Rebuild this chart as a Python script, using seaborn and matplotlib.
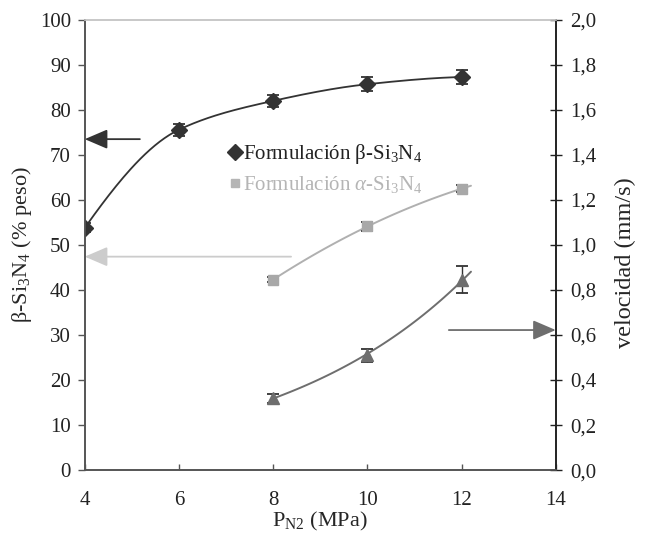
import matplotlib
matplotlib.use("Agg")
import matplotlib.pyplot as plt
import numpy as np
import seaborn as sns
from matplotlib.lines import Line2D

sns.set_theme(style="white")
plt.rcParams.update({
    "font.family": ["Liberation Serif", "DejaVu Serif"],
    "mathtext.fontset": "custom",
    "mathtext.rm": "Liberation Serif",
    "mathtext.it": "Liberation Serif:italic",
    "font.size": 15,
})

# ---------------------------------------------------------------- data
p_beta = [4, 6, 8, 10, 12]
beta = [53.8, 75.6, 82.0, 85.7, 87.3]
beta_err = [1.0, 1.3, 1.3, 1.5, 1.6]

p_alpha = [8, 10, 12]
alpha = [42.3, 54.1, 62.5]
alpha_err = [0.5, 1.0, 0.8]

p_vel = [8, 10, 12]
vel = [0.32, 0.51, 0.845]
vel_err = [0.02, 0.03, 0.06]

DARK, LIGHT, MID = "#333333", "#b0b0b0", "#6e6e6e"
FS = 15


def pchip_line(x, y, n=40):
    # monotone cubic smoothing of the connecting line (no overshoot)
    x = np.asarray(x, float); y = np.asarray(y, float)
    h = np.diff(x); d = np.diff(y) / h
    m = np.zeros_like(y)
    for k in range(1, len(x) - 1):
        if d[k - 1] * d[k] > 0:
            w1, w2 = 2 * h[k] + h[k - 1], h[k] + 2 * h[k - 1]
            m[k] = (w1 + w2) / (w1 / d[k - 1] + w2 / d[k])
    m[0] = ((2 * h[0] + h[1]) * d[0] - h[0] * d[1]) / (h[0] + h[1])
    m[-1] = ((2 * h[-1] + h[-2]) * d[-1] - h[-1] * d[-2]) / (h[-1] + h[-2])
    xs, ys = [], []
    for k in range(len(h)):
        t = np.linspace(0, 1, n)
        h00 = 2 * t**3 - 3 * t**2 + 1; h10 = t**3 - 2 * t**2 + t
        h01 = -2 * t**3 + 3 * t**2; h11 = t**3 - t**2
        xs.append(x[k] + t * h[k])
        ys.append(h00 * y[k] + h10 * h[k] * m[k] + h01 * y[k + 1] + h11 * h[k] * m[k + 1])
    return np.concatenate(xs), np.concatenate(ys)


def trend(x, y, x_end):
    c = np.polyfit(x, y, 2)
    xs = np.linspace(x[0], x_end, 60)
    return xs, np.polyval(c, xs)


def exp_trend(x, y, x_end):
    b, a = np.polyfit(x, np.log(y), 1)
    xs = np.linspace(x[0], x_end, 60)
    return xs, np.exp(a + b * xs)


fig = plt.figure(figsize=(6.47, 5.36), dpi=100)
ax = fig.add_axes([0.131, 0.123, 0.728, 0.840])
ax2 = ax.twinx()

# beta formulation
bx, by = pchip_line(p_beta, beta)
sns.lineplot(x=bx, y=by, ax=ax, color=DARK, lw=1.3, sort=False)
ax.errorbar(p_beta, beta, yerr=beta_err, fmt="D", ms=8, color=DARK, ecolor=DARK,
            elinewidth=1, capsize=4, capthick=1.3, zorder=5)

# alpha formulation
ax_x, ax_y = trend(p_alpha, alpha, 12.2)
sns.lineplot(x=ax_x, y=ax_y, ax=ax, color=LIGHT, lw=1.4)
ax.errorbar(p_alpha, alpha, yerr=alpha_err, fmt="s", ms=7, color="#a8a8a8", ecolor=DARK,
            elinewidth=1, capsize=4, capthick=1.3, zorder=5)

# velocity (right axis)
vx, vy = exp_trend(p_vel, vel, 12.2)
sns.lineplot(x=vx, y=vy, ax=ax2, color=MID, lw=1.4)
ax2.errorbar(p_vel, vel, yerr=vel_err, fmt="^", ms=8, color=MID, ecolor=DARK,
             elinewidth=1, capsize=4, capthick=1.3, zorder=5)

# arrows pointing to the relevant axis
arrow = dict(arrowstyle="-|>,head_length=1.4,head_width=0.6", mutation_scale=10,
             lw=1.3, shrinkA=0, shrinkB=0)
ax.annotate("", xy=(4, 73.5), xytext=(5.17, 73.5), arrowprops=dict(arrow, color=DARK))
ax.annotate("", xy=(4, 47.4), xytext=(8.38, 47.4), arrowprops=dict(arrow, color="#cccccc"))
ax.annotate("", xy=(14, 31.1), xytext=(11.73, 31.1), arrowprops=dict(arrow, color=MID))

ax.set_xlim(4, 14); ax.set_ylim(0, 100)
ax2.set_ylim(0, 2)
ax.set_xticks(range(4, 15, 2))
ax.set_yticks(range(0, 101, 10))
ax2.set_yticks(np.arange(0, 2.01, 0.2))
ax2.set_yticklabels([f"{v:.1f}".replace(".", ",") for v in np.arange(0, 2.01, 0.2)])

ax.set_xlabel(r"P$_{\mathrm{N2}}$ (MPa)", fontsize=FS + 1, labelpad=0)
ax.set_ylabel(r"β-Si$_3$N$_4$ (% peso)", fontsize=FS + 1, labelpad=4)
ax2.set_ylabel("velocidad (mm/s)", fontsize=17.5, labelpad=6)
ax2.yaxis.set_label_coords(1.125, 0.46)

for a in (ax, ax2):
    for s in a.spines.values():
        s.set_linewidth(1.2)
    a.spines["top"].set_color("#c8c8c8")
    a.spines["left"].set_color("#555555")
    a.spines["bottom"].set_color("#555555")
    a.spines["right"].set_color("#222222")
    a.tick_params(labelsize=FS, colors="#222222")
ax.tick_params(axis="y", direction="out", length=5, width=1, left=True, color="#555555", pad=5)
ax.tick_params(axis="x", direction="in", length=4, width=1, bottom=True, color="#555555", pad=15)
ax2.tick_params(axis="y", direction="inout", length=9, width=1, right=True, color="#222222", pad=6)

handles = [
    Line2D([], [], ls="none", marker="D", ms=8, color=DARK),
    Line2D([], [], ls="none", marker="s", ms=6, color="#b5b5b5"),
]
labels = [r"Formulación β-Si$_3$N$_4$", r"Formulación $\alpha$-Si$_3$N$_4$"]
leg = ax.legend(handles, labels, loc="upper left", bbox_to_anchor=(0.265, 0.77), frameon=False,
                handlelength=0.6, handletextpad=0.1, labelspacing=0.4, fontsize=FS)
leg.get_texts()[0].set_color("#222222")
leg.get_texts()[1].set_color("#b5b5b5")

fig.savefig("out.png", dpi=100)
